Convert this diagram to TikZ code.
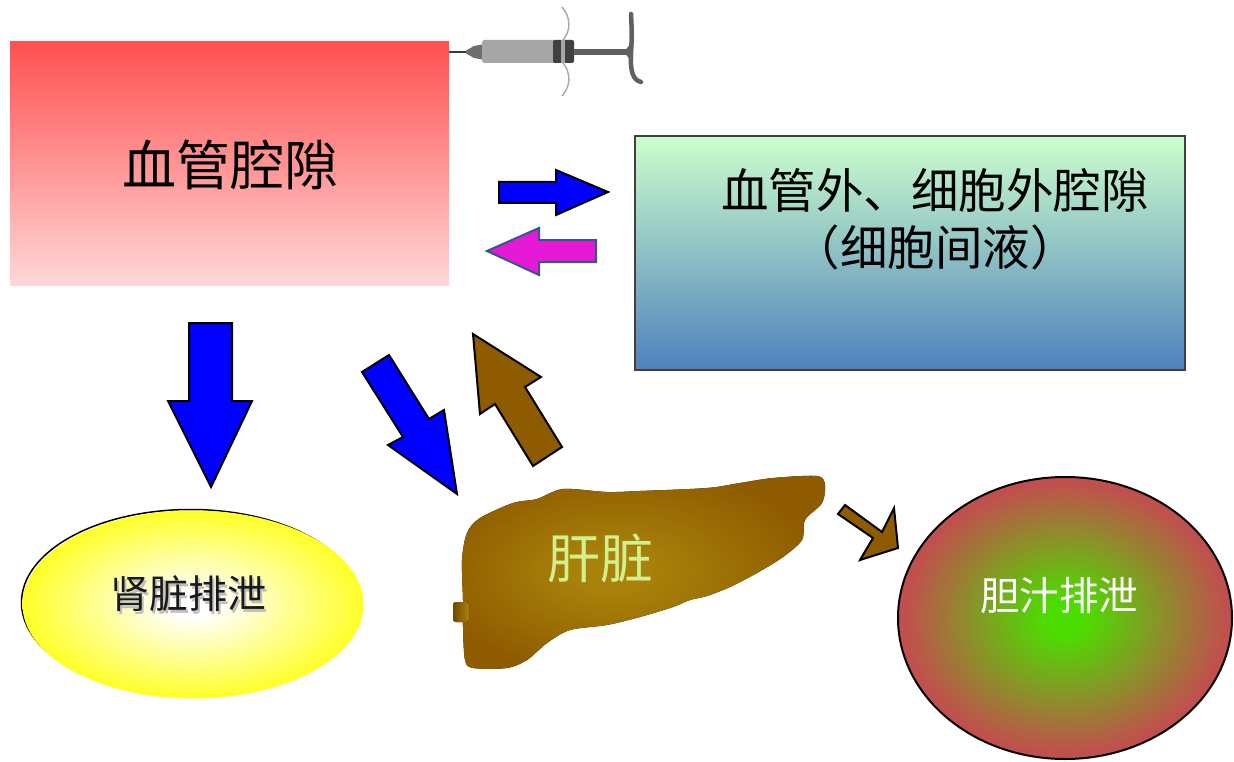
\documentclass[tikz,border=0pt]{standalone}
\usepackage{fontspec}
\newfontfamily\cjk{Noto Sans CJK SC}
\usetikzlibrary{shapes.geometric}

\definecolor{vesseltop}{HTML}{FF5050}
\definecolor{vesselbot}{HTML}{FFD7D7}
\definecolor{tissuetop}{HTML}{CCFFCC}
\definecolor{tissuebot}{HTML}{4F81BD}
\definecolor{flowblue}{HTML}{0000FF}
\definecolor{backpink}{HTML}{E619D6}
\definecolor{backedge}{HTML}{2F5A8A}
\definecolor{liverbrown}{HTML}{8F5B00}
\definecolor{livergold}{HTML}{A8820A}
\definecolor{livertext}{HTML}{D2F08C}
\definecolor{bilegreen}{HTML}{4CDD00}
\definecolor{bilered}{HTML}{C0504D}
\definecolor{syrneedle}{HTML}{3A3A3A}
\definecolor{syrhub}{HTML}{6E6E6E}
\definecolor{syrbarrel}{HTML}{A6A6A6}
\definecolor{syrring}{HTML}{404040}
\definecolor{syrflange}{HTML}{A8A8A8}
\definecolor{syrrod}{HTML}{606060}

% radial glows for the two excretion ellipses and the liver
% (the shape's edge falls at roughly 35bp of the shading's radius)
\pgfdeclareradialshading{kidneyglow}{\pgfpoint{0bp}{0bp}}{%
  color(0bp)=(white); color(3bp)=(white); color(29bp)=(yellow); color(50bp)=(yellow)}
\pgfdeclareradialshading{bileglow}{\pgfpoint{0bp}{0bp}}{%
  color(0bp)=(bilegreen); color(3bp)=(bilegreen); color(24bp)=(bilered); color(50bp)=(bilered)}
\pgfdeclareradialshading{liverglow}{\pgfpoint{-5bp}{0bp}}{%
  color(0bp)=(livergold); color(5bp)=(livergold); color(27bp)=(liverbrown); color(50bp)=(liverbrown)}

% text with a soft drop shadow, set in one box
\newcommand{\shadowed}[1]{\rlap{\kern2.5pt\raisebox{-2.5pt}{\color{black!25}#1}}#1}

\begin{document}
\begin{tikzpicture}[x=1pt,y=-1pt,
  blockarrow/.style={line width=2pt, line join=miter, draw=black},
  label/.style={inner sep=0pt, font=\cjk},
]
\useasboundingbox (0,0) rectangle (1234,762);
\fill[white] (0,0) rectangle (1234,762);

% ---- syringe ----
\draw[syrneedle, line width=1.3pt] (437,52) -- (470,52);
\fill[syrhub] (466,50.5) -- (474,46) -- (485,44) -- (485,60) -- (474,58) -- (466,53.5) -- cycle;
\fill[syrbarrel, rounded corners=2.5pt] (482,40) rectangle (558,63);
\fill[syrring, rounded corners=2pt] (553,40) rectangle (574,63);
\fill[syrbarrel] (561,40) rectangle (564.5,63);
\draw[syrflange, line width=1.4pt] (562,7) .. controls (571,17) and (571,31) .. (563,40);
\draw[syrflange, line width=1.4pt] (563,63) .. controls (571,73) and (571,86) .. (562,96);
\fill[syrrod] (574,49) rectangle (629,55);
\draw[syrrod, line width=4.5pt, line cap=round] (631,14) .. controls (632,35) .. (631,52)
      .. controls (630,72) and (633,80) .. (641,82);
\fill[syrrod] (624,52) .. controls (628,47) .. (630,44) -- (633,44) -- (633,60) -- (630,60) .. controls (628,57) .. (624,52) -- cycle;

% ---- compartments ----
\node[top color=vesseltop, bottom color=vesselbot, minimum width=439pt, minimum height=244pt,
      inner sep=0pt, anchor=north west] (vessel) at (10,41) {};
\node[label, font=\cjk\fontsize{54}{60}\selectfont] (vesseltext) at (230,165) {血管腔隙};

\node[top color=tissuetop, bottom color=tissuebot, draw=black!75, line width=2pt,
      minimum width=550pt, minimum height=234pt, inner sep=0pt, anchor=north west] (tissue) at (634,135) {};
\node[label, font=\cjk\fontsize{47.5}{52}\selectfont] (tissuetext) at (935,190) {血管外、细胞外腔隙};
\node[label, font=\cjk\fontsize{47.5}{52}\selectfont] (tissuetext2) at (935,247) {（细胞间液）};

% ---- exchange arrows between blood and tissue ----
\draw[blockarrow, fill=flowblue] (499,182) -- (556,182) -- (556,170) -- (608,192)
      -- (556,215) -- (556,203) -- (499,203) -- cycle;
\draw[blockarrow, draw=backedge, fill=backpink] (596,240) -- (539,240) -- (539,228) -- (487,251)
      -- (539,275) -- (539,262) -- (596,262) -- cycle;

% ---- blood to kidney and liver ----
\draw[blockarrow, fill=flowblue] (189,323) -- (232,323) -- (232,401) -- (252,401) -- (211,487)
      -- (168,401) -- (189,401) -- cycle;
\draw[blockarrow, fill=flowblue] (362,372) -- (389,355) -- (429,419) -- (444,410) -- (457,494)
      -- (388,445) -- (403,437) -- cycle;
\draw[blockarrow, fill=liverbrown] (473,334) -- (541,377) -- (525,387) -- (562,447) -- (533,466)
      -- (495,404) -- (480,414) -- cycle;

% ---- kidney excretion ----
\draw[black, line width=1.5pt] (190.5,602.5) ellipse [x radius=169pt, y radius=93pt];
\node[ellipse, shading=kidneyglow, minimum width=341pt, minimum height=188pt, inner sep=0pt]
      (kidney) at (193,604.5) {};
\node[label, text=black!90, font=\cjk\fontsize{39}{44}\selectfont] (kidneytext) at (188,595) {\shadowed{肾脏排泄}};

% ---- liver ----
\fill[shading=liverglow] plot[smooth cycle, tension=0.5] coordinates {
  (480,518) (513,503) (537,499) (563,489) (607,492) (640,491) (707,488) (740,483) (773,478)
  (817,476) (825,485) (822,503) (805,520) (802,540) (783,557) (757,573) (730,587) (707,596)
  (690,600) (673,607) (640,617) (607,625) (570,630) (547,643) (527,660) (507,668) (473,668)
  (465,660) (463,627) (463,600) (462,560) (467,533)};
\fill[left color=liverbrown!80!black, right color=livergold, rounded corners=3pt] (453,602) rectangle (469,622);
\node[label, text=livertext, font=\cjk\fontsize{53}{58}\selectfont] (liver) at (600,558) {肝脏};

% ---- liver to bile ----
\draw[blockarrow, fill=liverbrown] (845,505) -- (882,532) -- (894,508) -- (898,548) -- (860,560)
      -- (873,538) -- (838,514) -- cycle;

% ---- bile excretion ----
\node[ellipse, shading=bileglow, draw=black, line width=2pt, minimum width=334pt, minimum height=282pt,
      inner sep=0pt] (bile) at (1065,618) {};
\node[label, text=white, font=\cjk\fontsize{39.5}{44}\selectfont] (biletext) at (1059,596) {胆汁排泄};
\end{tikzpicture}
\end{document}
